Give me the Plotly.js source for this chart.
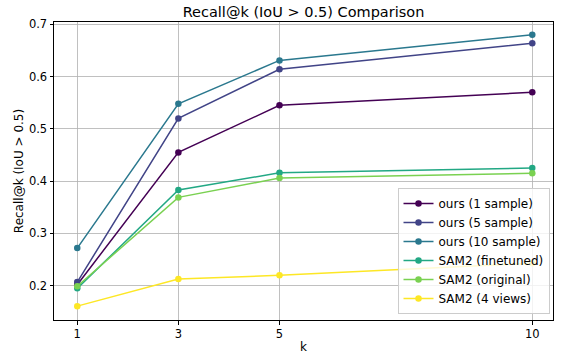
<!DOCTYPE html>
<html>
<head>
<meta charset="utf-8">
<script src="https://cdn.plot.ly/plotly-3.0.1.min.js"></script>
<style>html,body{margin:0;padding:0;background:#fff}#chart{width:561px;height:354px}</style>
</head>
<body>
<div id="chart"></div>
<script>
const kValues = [1, 3, 5, 10];
const seriesNames = ["ours (1 sample)", "ours (5 sample)", "ours (10 sample)", "SAM2 (finetuned)", "SAM2 (original)", "SAM2 (4 views)"];
const ours1 = [0.202, 0.455, 0.545, 0.570];
const ours5 = [0.207, 0.520, 0.614, 0.664];
const ours10 = [0.272, 0.548, 0.631, 0.680];
const sam2Finetuned = [0.195, 0.383, 0.416, 0.425];
const sam2Original = [0.199, 0.369, 0.406, 0.415];
const sam2FourViews = [0.161, 0.213, 0.220, 0.243];
const colors = ["#440154", "#414487", "#2a788e", "#22a884", "#7ad151", "#fde725"];
const allSeries = [ours1, ours5, ours10, sam2Finetuned, sam2Original, sam2FourViews];

const traces = allSeries.map((vals, i) => ({
  x: kValues, y: vals, name: seriesNames[i], type: "scatter", mode: "lines+markers",
  line: {color: colors[i], width: 1.5},
  marker: {color: colors[i], size: 6.5}
}));

const font = "DejaVu Sans, sans-serif";
const layout = {
  width: 561, height: 354,
  margin: {l: 54, r: 8, t: 22, b: 34},
  paper_bgcolor: "#fff", plot_bgcolor: "#fff",
  font: {family: font, size: 11, color: "#000"},
  title: {text: "Recall@k (IoU > 0.5) Comparison", font: {family: font, size: 14.5, color: "#000"}, x: 0.541, xanchor: "center", y: 0.965, yanchor: "middle"},
  xaxis: {
    range: [0.54, 10.41], tickvals: kValues, ticktext: kValues.map(String),
    showgrid: true, gridcolor: "#b0b0b0", gridwidth: 0.8,
    showline: true, linecolor: "#000", linewidth: 1, mirror: true,
    ticks: "outside", ticklen: 3.5, tickcolor: "#000", tickfont: {size: 11.5},
    zeroline: false,
    title: {text: "k", font: {size: 12}, standoff: 5}
  },
  yaxis: {
    range: [0.1345, 0.7044], tickvals: [0.2, 0.3, 0.4, 0.5, 0.6, 0.7], ticktext: ["0.2", "0.3", "0.4", "0.5", "0.6", "0.7"],
    showgrid: true, gridcolor: "#b0b0b0", gridwidth: 0.8,
    showline: true, linecolor: "#000", linewidth: 1, mirror: true,
    ticks: "outside", ticklen: 3.5, tickcolor: "#000", tickfont: {size: 11.5},
    zeroline: false,
    title: {text: "Recall@k (IoU > 0.5)", font: {size: 12}, standoff: 2}
  },
  legend: {
    x: 0.993, xanchor: "right", y: 0.02, yanchor: "bottom",
    bgcolor: "rgba(255,255,255,0.8)", bordercolor: "#cccccc", borderwidth: 1,
    font: {family: font, size: 12, color: "#000"},
    tracegroupgap: 0, itemwidth: 30
  },
  showlegend: true
};
Plotly.newPlot("chart", traces, layout, {displayModeBar: false, staticPlot: true});
</script>
</body>
</html>
